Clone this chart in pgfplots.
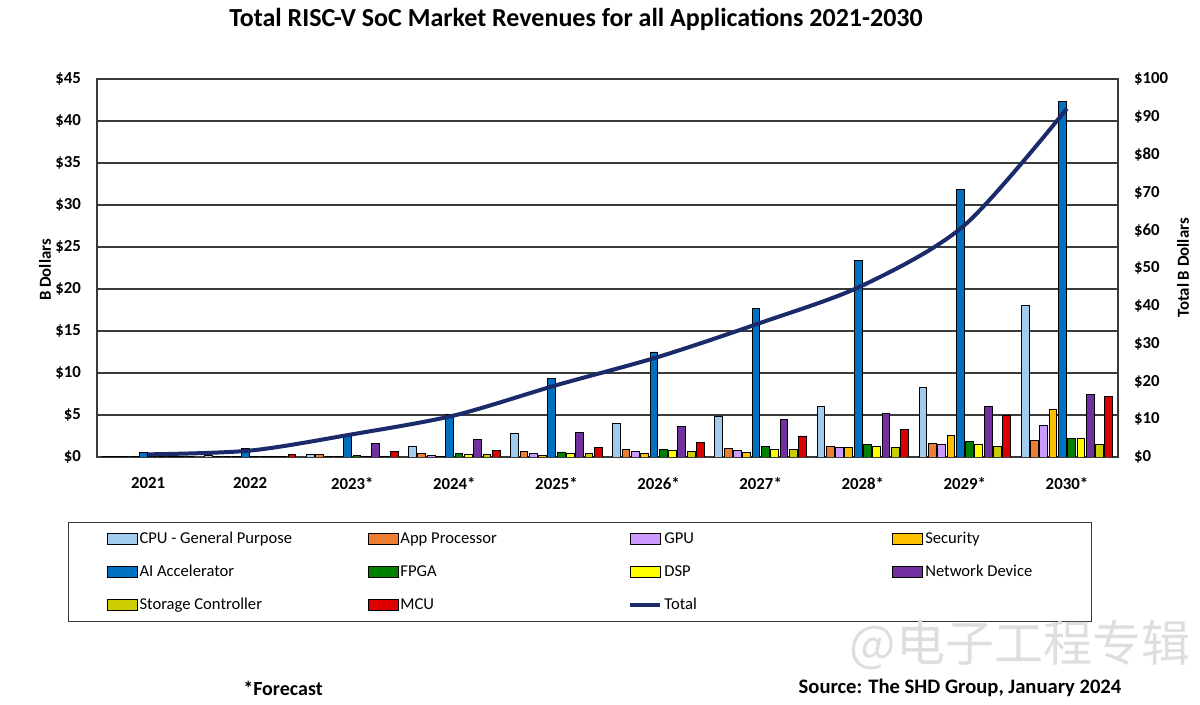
\documentclass[border=0pt]{standalone}
\usepackage{pgfplots}
\pgfplotsset{compat=1.18}
\usepackage{fontspec}
\setmainfont{Carlito}
\newfontfamily\cjk{Noto Sans CJK SC}
\definecolor{cpuc}{HTML}{A3CBEE}
\definecolor{appc}{HTML}{ED7D31}
\definecolor{gpuc}{HTML}{CC99FF}
\definecolor{secc}{HTML}{FFC000}
\definecolor{aic}{HTML}{0070C0}
\definecolor{fpgac}{HTML}{008000}
\definecolor{dspc}{HTML}{FFFF00}
\definecolor{netc}{HTML}{7030A0}
\definecolor{stoc}{HTML}{CCCC00}
\definecolor{mcuc}{HTML}{DD0000}
\definecolor{totc}{HTML}{1B2A6A}
\definecolor{gridc}{HTML}{3A3A3A}
\pgfplotsset{barleg/.style={legend image code/.code={\draw[##1] (0pt,-2.6pt) rectangle (15pt,2.6pt);}},
  lineleg/.style={legend image code/.code={\draw[##1] (0pt,0pt) -- (15pt,0pt);}}}
\begin{document}
\begin{tikzpicture}[x=1pt,y=1pt]
\useasboundingbox (0,0) rectangle (600,352.5);
\begin{axis}[
  at={(48.5pt,124pt)}, anchor=south west,
  scale only axis, width=510.5pt, height=189pt,
  xmin=-0.5, xmax=9.5, ymin=0, ymax=45,
  ybar=0.75pt, bar width=3.9pt,
  xtick={0,...,9},
  xticklabels={2021,2022,2023*,2024*,2025*,2026*,2027*,2028*,2029*,2030*},
  ytick={0,5,...,45},
  yticklabel={\textbf{\$\pgfmathprintnumber[assume math mode=true]{\tick}}},
  ticklabel style={font=\bfseries\fontsize{8.4}{10}\selectfont},
  xticklabel style={yshift=-6.5pt},
  yticklabel style={xshift=-4.5pt},
  ymajorgrids, grid style={line width=0.75pt, color=gridc},
  axis line style={line width=0.75pt, color=gridc},
  major tick length=0pt,
  every axis plot/.append style={draw=black, line width=0.45pt},
]
\addplot[fill=cpuc] coordinates {(0,0.1) (1,0.15) (2,0.3) (3,1.25) (4,2.75) (5,4.0) (6,4.8) (7,6.05) (8,8.3) (9,18.0)};
\addplot[fill=appc] coordinates {(0,0.05) (1,0.1) (2,0.3) (3,0.4) (4,0.65) (5,0.85) (6,1.0) (7,1.3) (8,1.65) (9,2.0)};
\addplot[fill=gpuc] coordinates {(0,0.02) (1,0.05) (2,0.1) (3,0.15) (4,0.4) (5,0.65) (6,0.75) (7,1.1) (8,1.45) (9,3.8)};
\addplot[fill=secc] coordinates {(0,0.02) (1,0.05) (2,0.05) (3,0.1) (4,0.2) (5,0.4) (6,0.55) (7,1.1) (8,2.6) (9,5.6)};
\addplot[fill=aic] coordinates {(0,0.5) (1,1.05) (2,2.55) (3,5.1) (4,9.4) (5,12.5) (6,17.7) (7,23.4) (8,31.9) (9,42.3)};
\addplot[fill=fpgac] coordinates {(0,0.02) (1,0.05) (2,0.15) (3,0.4) (4,0.6) (5,0.95) (6,1.2) (7,1.5) (8,1.9) (9,2.2)};
\addplot[fill=dspc] coordinates {(0,0.02) (1,0.05) (2,0.1) (3,0.3) (4,0.45) (5,0.75) (6,0.95) (7,1.3) (8,1.55) (9,2.2)};
\addplot[fill=netc] coordinates {(0,0.05) (1,0.1) (2,1.6) (3,2.05) (4,2.9) (5,3.6) (6,4.5) (7,5.2) (8,6.05) (9,7.4)};
\addplot[fill=stoc] coordinates {(0,0.02) (1,0.05) (2,0.1) (3,0.3) (4,0.4) (5,0.65) (6,0.85) (7,1.1) (8,1.2) (9,1.5)};
\addplot[fill=mcuc] coordinates {(0,0.05) (1,0.3) (2,0.65) (3,0.8) (4,1.1) (5,1.75) (6,2.5) (7,3.3) (8,4.9) (9,7.2)};
\end{axis}
\begin{axis}[
  at={(48.5pt,124pt)}, anchor=south west,
  scale only axis, width=510.5pt, height=189pt,
  xmin=-0.5, xmax=9.5, ymin=0, ymax=100,
  axis x line=none, axis y line*=right,
  ytick={0,10,...,100},
  yticklabel={\textbf{\$\pgfmathprintnumber[assume math mode=true]{\tick}}},
  ticklabel style={font=\bfseries\fontsize{8.4}{10}\selectfont},
  yticklabel style={xshift=4.5pt},
  axis line style={line width=0.75pt, color=gridc},
  major tick length=0pt,
  legend columns=4,
  legend cell align=left,
  legend style={at={(-0.0284,-0.172)}, anchor=north west,
    draw=gridc, line width=0.6pt, inner xsep=19pt, inner ysep=3.3pt,
    /tikz/column sep=0pt, /tikz/row sep=6.7pt,
    font=\fontsize{8.3}{10}\selectfont,
    nodes={inner sep=1pt, text height=6pt, text depth=1.8pt}},
]
\addlegendimage{barleg, fill=cpuc, draw=black, line width=0.45pt}
\addlegendentry{\makebox[113pt][l]{CPU - General Purpose}}
\addlegendimage{barleg, fill=appc, draw=black, line width=0.45pt}
\addlegendentry{\makebox[113pt][l]{App Processor}}
\addlegendimage{barleg, fill=gpuc, draw=black, line width=0.45pt}
\addlegendentry{\makebox[113pt][l]{GPU}}
\addlegendimage{barleg, fill=secc, draw=black, line width=0.45pt}
\addlegendentry{\makebox[63pt][l]{Security}}
\addlegendimage{barleg, fill=aic, draw=black, line width=0.45pt}
\addlegendentry{AI Accelerator}
\addlegendimage{barleg, fill=fpgac, draw=black, line width=0.45pt}
\addlegendentry{FPGA}
\addlegendimage{barleg, fill=dspc, draw=black, line width=0.45pt}
\addlegendentry{DSP}
\addlegendimage{barleg, fill=netc, draw=black, line width=0.45pt}
\addlegendentry{Network Device}
\addlegendimage{barleg, fill=stoc, draw=black, line width=0.45pt}
\addlegendentry{Storage Controller}
\addlegendimage{barleg, fill=mcuc, draw=black, line width=0.45pt}
\addlegendentry{MCU}
\addplot[totc, line width=2pt, smooth, no markers, lineleg]
  coordinates {(0,0.7) (1,1.7) (2,6.0) (3,11.0) (4,19.0) (5,26.5) (6,35.5) (7,45.4) (8,61.4) (9,92.2)};
\addlegendentry{Total}
\end{axis}
\node[font=\bfseries\fontsize{13}{15}\selectfont] at (288,343) {Total RISC-V SoC Market Revenues for all Applications 2021-2030};
\node[font=\bfseries\fontsize{8.4}{10}\selectfont, rotate=90] at (22.5,217.5) {B Dollars};
\node[font=\bfseries\fontsize{8.4}{10}\selectfont, rotate=90] at (591.5,218.5) {Total B Dollars};
\node[font=\bfseries\fontsize{10}{12}\selectfont] at (141.5,8.5) {*Forecast};
\node[font=\bfseries\fontsize{10.3}{12}\selectfont] at (480,8.5) {Source: The SHD Group, January 2024};
\node[font=\cjk\fontsize{24.5}{24.5}\selectfont, text=black!13] at (510,30) {@电子工程专辑};
\end{tikzpicture}
\end{document}
